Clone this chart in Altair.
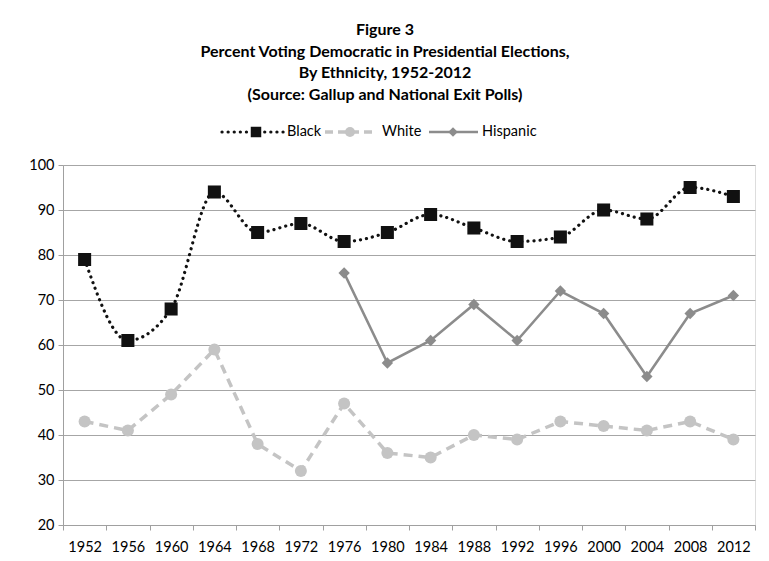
import altair as alt
import pandas as pd

years = ["1952", "1956", "1960", "1964", "1968", "1972", "1976", "1980",
         "1984", "1988", "1992", "1996", "2000", "2004", "2008", "2012"]
black = [79, 61, 68, 94, 85, 87, 83, 85, 89, 86, 83, 84, 90, 88, 95, 93]
white = [43, 41, 49, 59, 38, 32, 47, 36, 35, 40, 39, 43, 42, 41, 43, 39]
hisp_years = ["1976", "1980", "1984", "1988", "1992", "1996", "2000", "2004", "2008", "2012"]
hispanic = [76, 56, 61, 69, 61, 72, 67, 53, 67, 71]
series_names = ["Black", "White", "Hispanic"]

title_lines = ["Figure 3",
               "Percent Voting Democratic in Presidential Elections,",
               "By Ethnicity, 1952-2012",
               "(Source: Gallup and National Exit Polls)"]

FONT = "Lato"
df_b = pd.DataFrame({"Year": years, "Pct": black})
df_w = pd.DataFrame({"Year": years, "Pct": white})
df_h = pd.DataFrame({"Year": hisp_years, "Pct": hispanic})
one = pd.DataFrame({"k": [0]})

xenc = alt.X("Year:O", bandPosition=0.5,
             scale=alt.Scale(type="band", domain=years, paddingInner=0, paddingOuter=0),
             axis=alt.Axis(title=None, labelAngle=0, tickBand="extent", grid=False,
                           ticks=True, tickSize=5, tickColor="#a0a0a0",
                           domainColor="#a0a0a0", labelFontSize=14.5, labelPadding=10,
                           labelFont=FONT, labelColor="#000000"))
yenc = alt.Y("Pct:Q", scale=alt.Scale(domain=[20, 100], nice=False, zero=False),
             axis=alt.Axis(title=None, values=list(range(20, 101, 10)), grid=True,
                           gridColor="#a6a6a6", gridWidth=1.2, tickSize=5,
                           tickColor="#a0a0a0", domainColor="#a0a0a0",
                           labelFontSize=14.5, labelPadding=4, labelFont=FONT,
                           labelColor="#000000"))

BLACK = "#111111"
WHITE = "#c4c4c4"
HISP = "#8c8c8c"

b_line = alt.Chart(df_b).mark_line(color=BLACK, strokeWidth=3.2, strokeDash=[0.1, 6],
                                   strokeCap="round", interpolate="monotone").encode(x=xenc, y=yenc)
b_pts = alt.Chart(df_b).mark_point(shape="square", filled=True, opacity=1, size=170,
                                   color=BLACK).encode(x=xenc, y=yenc)
w_line = alt.Chart(df_w).mark_line(color=WHITE, strokeWidth=3.5,
                                   strokeDash=[9, 6]).encode(x=xenc, y=yenc)
w_pts = alt.Chart(df_w).mark_point(shape="circle", filled=True, opacity=1, size=145,
                                   color=WHITE).encode(x=xenc, y=yenc)
h_line = alt.Chart(df_h).mark_line(color=HISP, strokeWidth=2.6).encode(x=xenc, y=yenc)
h_pts = alt.Chart(df_h).mark_point(shape="diamond", filled=True, opacity=1, size=130,
                                   color=HISP).encode(x=xenc, y=yenc)

# legend (drawn manually so it shows line + marker)
LY = -33
leg = [
    alt.Chart(one).mark_rule(color=BLACK, strokeWidth=3.2, strokeDash=[0.1, 6],
                             strokeCap="round").encode(x=alt.value(159), x2=alt.value(221), y=alt.value(LY)),
    alt.Chart(one).mark_point(shape="square", filled=True, opacity=1, size=110,
                              color=BLACK).encode(x=alt.value(193), y=alt.value(LY)),
    alt.Chart(one).mark_text(align="left", baseline="middle", fontSize=14.5, font=FONT,
                             color="#000000").encode(x=alt.value(224), y=alt.value(LY), text=alt.value(series_names[0])),
    alt.Chart(one).mark_rule(color=WHITE, strokeWidth=3.5, strokeDash=[8, 5]).encode(
        x=alt.value(262), x2=alt.value(313), y=alt.value(LY)),
    alt.Chart(one).mark_point(shape="circle", filled=True, opacity=1, size=100,
                              color=WHITE).encode(x=alt.value(287), y=alt.value(LY)),
    alt.Chart(one).mark_text(align="left", baseline="middle", fontSize=14.5, font=FONT,
                             color="#000000").encode(x=alt.value(319), y=alt.value(LY), text=alt.value(series_names[1])),
    alt.Chart(one).mark_rule(color=HISP, strokeWidth=2.6).encode(
        x=alt.value(366), x2=alt.value(415), y=alt.value(LY)),
    alt.Chart(one).mark_point(shape="diamond", filled=True, opacity=1, size=90,
                              color=HISP).encode(x=alt.value(390), y=alt.value(LY)),
    alt.Chart(one).mark_text(align="left", baseline="middle", fontSize=14.5, font=FONT,
                             color="#000000").encode(x=alt.value(419), y=alt.value(LY), text=alt.value(series_names[2])),
]

title = alt.Chart(one).mark_text(align="center", baseline="middle", fontSize=16, font=FONT,
                                 fontWeight="bold", lineHeight=21.5, color="#000000").encode(
    x=alt.value(322), y=alt.value(-135), text=alt.value(title_lines))

border_top = alt.Chart(one).mark_rule(color="#a0a0a0", strokeWidth=1.5).encode(
    x=alt.value(-59), x2=alt.value(900), y=alt.value(-160))
border_left = alt.Chart(one).mark_rule(color="#a0a0a0", strokeWidth=1.5).encode(
    x=alt.value(-59), y=alt.value(-160), y2=alt.value(700))

chart = alt.layer(border_top, border_left, w_line, w_pts, h_line, h_pts, b_line, b_pts,
                  title, *leg).properties(
    width=692, height=360,
    autosize=alt.AutoSizeParams(type="none"),
    padding={"left": 55, "top": 157, "right": 6, "bottom": 28},
).configure_view(stroke=None).configure(background="white")

chart.save("out.html", embed_options={"renderer": "svg", "actions": False})
